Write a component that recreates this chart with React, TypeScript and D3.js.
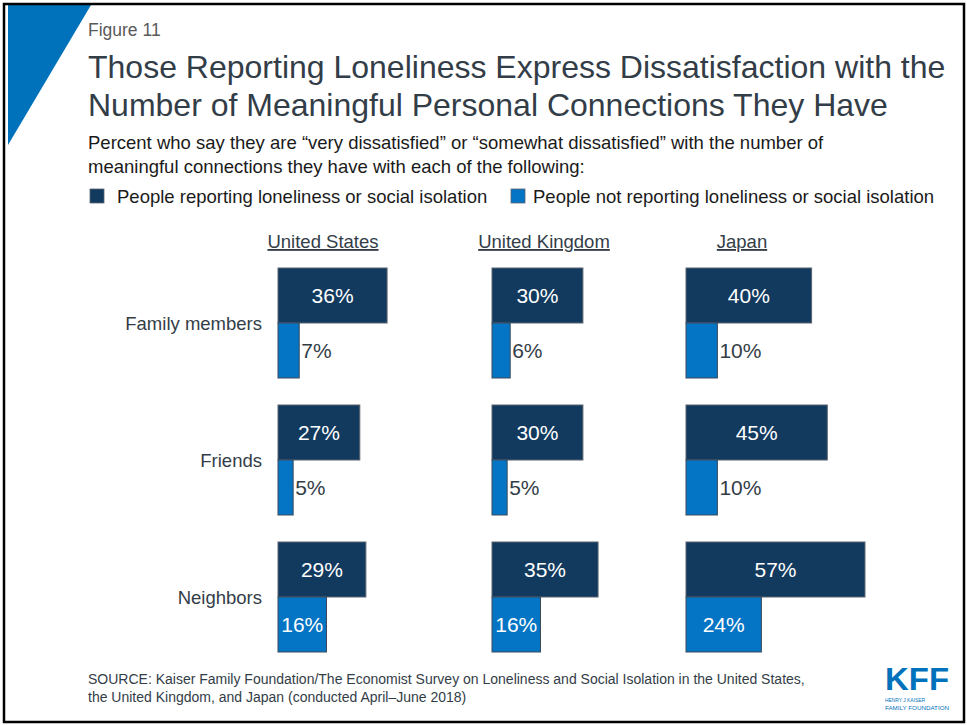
import React from "react";
import * as d3 from "d3";

const countries = ["United States", "United Kingdom", "Japan"];
const categories = ["Family members", "Friends", "Neighbors"];
const lonelyUS = [36, 27, 29];
const lonelyUK = [30, 30, 35];
const lonelyJP = [40, 45, 57];
const notLonelyUS = [7, 5, 16];
const notLonelyUK = [6, 5, 16];
const notLonelyJP = [10, 10, 24];
const seriesNames = [
  "People reporting loneliness or social isolation",
  "People not reporting loneliness or social isolation",
];

const lonely = [lonelyUS, lonelyUK, lonelyJP];
const notLonely = [notLonelyUS, notLonelyUK, notLonelyJP];

const W = 967;
const H = 725;
const DARK = "#123a5e";
const LIGHT = "#0474c4";
const TEXT = "#333d47";
const FONT = "'Liberation Sans', Arial, sans-serif";

// layout
const panelX = [278, 492, 686];
const panelW = [303, 303, 314];
const headerX = [323, 544, 742];

export default function App() {
  const yBand = d3.scaleBand<string>().domain(categories).range([268, 679]).paddingInner(0).paddingOuter(0);
  const barH = 55;

  return (
    <svg
      width={W}
      height={H}
      style={{ position: "absolute", left: 0, top: 0, background: "#fff" }}
      fontFamily={FONT}
    >
      <rect x={0} y={0} width={W} height={H} fill="#fff" />
      <polygon points="8,5 91,5 8,145" fill="#0072bc" />
      <rect x={4} y={4} width={960} height={718} fill="none" stroke="#000" strokeWidth={2.5} />

      <text x={88} y={36} fontSize={17.5} fill="#595959">Figure 11</text>
      <text x={88} y={78} fontSize={32} fill={TEXT}>
        Those Reporting Loneliness Express Dissatisfaction with the
      </text>
      <text x={88} y={116} fontSize={32} fill={TEXT}>
        Number of Meaningful Personal Connections They Have
      </text>
      <text x={88} y={149} fontSize={18.5} fill="#1a1a1a">
        Percent who say they are “very dissatisfied” or “somewhat dissatisfied” with the number of
      </text>
      <text x={88} y={173} fontSize={18.5} fill="#1a1a1a">
        meaningful connections they have with each of the following:
      </text>

      {/* legend */}
      <rect x={90} y={189} width={14} height={14} fill={DARK} stroke="#5a6470" strokeWidth={0.8} />
      <text x={117} y={203} fontSize={18.5} fill="#1a1a1a">{seriesNames[0]}</text>
      <rect x={511} y={189} width={14} height={14} fill={LIGHT} stroke="#5a6470" strokeWidth={0.8} />
      <text x={533} y={203} fontSize={18.5} fill="#1a1a1a">{seriesNames[1]}</text>

      {/* row labels */}
      {categories.map((c) => (
        <text key={c} x={262} y={(yBand(c) as number) + barH + 7} fontSize={18.5} fill={TEXT} textAnchor="end">
          {c}
        </text>
      ))}

      {countries.map((country, ci) => {
        const x = d3.scaleLinear().domain([0, 100]).range([panelX[ci], panelX[ci] + panelW[ci]]);
        return (
          <g key={country}>
            <text x={headerX[ci]} y={248} fontSize={18.5} fill={TEXT} textAnchor="middle" textDecoration="underline">
              {country}
            </text>
            {categories.map((cat, ri) => {
              const y0 = yBand(cat) as number;
              const v1 = lonely[ci][ri];
              const v2 = notLonely[ci][ri];
              const x0 = x(0);
              const x1 = x(v1);
              const x2 = x(v2);
              const inside = v2 >= 15;
              return (
                <g key={cat}>
                  <rect x={x0} y={y0} width={x1 - x0} height={barH} fill={DARK} stroke="#5a6470" strokeWidth={1} />
                  <text x={(x0 + x1) / 2} y={y0 + barH / 2 + 7.5} fontSize={21} fill="#fff" textAnchor="middle">
                    {v1}%
                  </text>
                  <rect x={x0} y={y0 + barH} width={x2 - x0} height={barH} fill={LIGHT} stroke="#3c4a5a" strokeWidth={1} />
                  <text
                    x={inside ? (x0 + x2) / 2 : x2 + 2}
                    y={y0 + barH * 1.5 + 7.5}
                    fontSize={21}
                    fill={inside ? "#fff" : TEXT}
                    textAnchor={inside ? "middle" : "start"}
                  >
                    {v2}%
                  </text>
                </g>
              );
            })}
          </g>
        );
      })}

      <text x={88} y={684} fontSize={14} fill={TEXT}>
        SOURCE: Kaiser Family Foundation/The Economist Survey on Loneliness and Social Isolation in the United States,
      </text>
      <text x={88} y={702} fontSize={14} fill={TEXT}>
        the United Kingdom, and Japan (conducted April–June 2018)
      </text>

      {/* KFF logo */}
      <text x={885} y={690} fontSize={31} fontWeight="bold" fill="#0072bc" textLength={64} lengthAdjust="spacingAndGlyphs">
        KFF
      </text>
      <text x={885} y={702} fontSize={6} fill="#0072bc" textLength={40} lengthAdjust="spacingAndGlyphs">HENRY J KAISER</text>
      <text x={885} y={710} fontSize={6} fill="#0072bc" textLength={64} lengthAdjust="spacingAndGlyphs">FAMILY FOUNDATION</text>
    </svg>
  );
}
